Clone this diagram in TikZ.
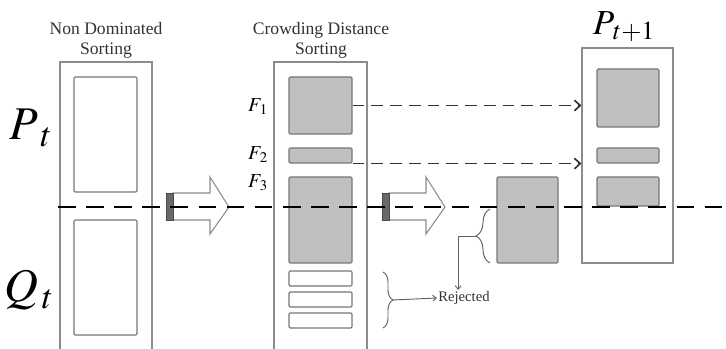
\documentclass[tikz,border=0pt]{standalone}
\usepackage{mathptmx}
\usepackage{fontspec}
\setmainfont{Liberation Serif}
\usetikzlibrary{fit,decorations.pathreplacing,arrows.meta}

\definecolor{framegray}{RGB}{140,140,140}
\definecolor{setgray}{RGB}{192,192,192}
\definecolor{bargray}{RGB}{105,105,105}
\definecolor{inkgray}{RGB}{50,50,50}

\tikzset{
  colbox/.style={draw=framegray, line width=0.9pt},
  front/.style={draw=framegray!85!black, line width=1pt, rounded corners=1pt, inner sep=0pt},
  kept/.style={front, fill=setgray},
  openset/.style={front, fill=white},
  split/.style={black, line width=2.4pt, dash pattern=on 15pt off 9pt},
  pass/.style={-{Straight Barb[length=5pt,width=9pt]}, inkgray, line width=1.4pt, dash pattern=on 10pt off 6pt},
  drop/.style={-{Straight Barb[length=3pt,width=5pt]}, framegray!70!black, line width=0.8pt},
  heading/.style={align=center, text=inkgray, font=\fontsize{15}{17}\selectfont},
}

\begin{document}
\begin{tikzpicture}[x=0.03cm, y=-0.03cm]
	\useasboundingbox (0,0) rectangle (726,349);
	% columns
	\draw[colbox] (60,349) |- (152,62) -- (152,349);
	\draw[colbox] (274,349) |- (367,62) -- (367,349);
	\node[colbox, inner sep=0pt, fit={(582,48) (673,263)}] (next) {};
	% sets
	\node[openset, fit={(74,77) (137,192)}] (P) {};
	\node[openset, fit={(74,220) (137,335)}] (Q) {};
	\node[kept, fit={(289,77) (352,134)}] (F1) {};
	\node[kept, fit={(289,148) (352,163)}] (F2) {};
	\node[kept, fit={(289,177) (352,263)}] (F3) {};
	\foreach \y/\n in {271/r1,292/r2,313/r3}
		\node[openset, fit={(289,\y) (352,\y+15)}] (\n) {};
	\node[kept, fit={(497,177) (558,263)}] (cut) {};
	\node[kept, fit={(597,69) (659,127)}] (N1) {};
	\node[kept, fit={(597,148) (659,163)}] (N2) {};
	\node[kept, fit={(597,177) (659,206)}] (N3) {};
	% labels
	\node[heading] (nds) at (106,40) {Non Dominated\\Sorting};
	\node[heading] (cds) at (321,40) {Crowding Distance\\Sorting};
	\node[font=\fontsize{40}{40}\selectfont] (Pt) at (31,128) {$P_{\;t}$};
	\node[font=\fontsize{40}{40}\selectfont] (Qt) at (29,290) {$Q_{\,t}$};
	\node[font=\fontsize{30}{30}\selectfont] (Pn) at (624,27) {$P_{\,t+1}$};
	\node[font=\fontsize{17}{17}\selectfont] (f1) at (258,107) {$F_{\,1}$};
	\node[font=\fontsize{17}{17}\selectfont] (f2) at (258,155) {$F_{\,2}$};
	\node[font=\fontsize{17}{17}\selectfont] (f3) at (258,183) {$F_{\,3}$};
	\node[font=\fontsize{12.5}{14}\selectfont, text=inkgray, inner sep=1pt] (rej) at (464,298) {Rejected};
	% block arrows
	\foreach \x in {166,382} {
		\draw[framegray, line width=0.9pt, fill=white] (\x+7,193) -- (\x+44,193) -- (\x+44,177) -- (\x+63,207) -- (\x+44,234) -- (\x+44,220) -- (\x+7,220) -- cycle;
		\draw[bargray!70!black, fill=bargray, line width=0.6pt] (\x,193) rectangle (\x+7,220);
	}
	\draw[split] (58,207) -- (724,207);
	% moves
	\draw[pass] (F1.east) -- (F1.east -| next.west);
	\draw[pass] (F2.south east) -- (F2.south east -| next.west);
	% rejected
	\draw[drop, -, decorate, decoration={brace, amplitude=0.3cm}] (383,272) -- (383,328);
	\draw[drop, -, decorate, decoration={brace, amplitude=0.42cm}] (490,263) -- (490,209);
	\coordinate (tipA) at (393,300);
	\coordinate (tipB) at (476,236);
	\draw[drop] (tipA) -- (rej.west);
	\draw[drop] (tipB) -| ([xshift=-5pt]rej.north);
\end{tikzpicture}
\end{document}
